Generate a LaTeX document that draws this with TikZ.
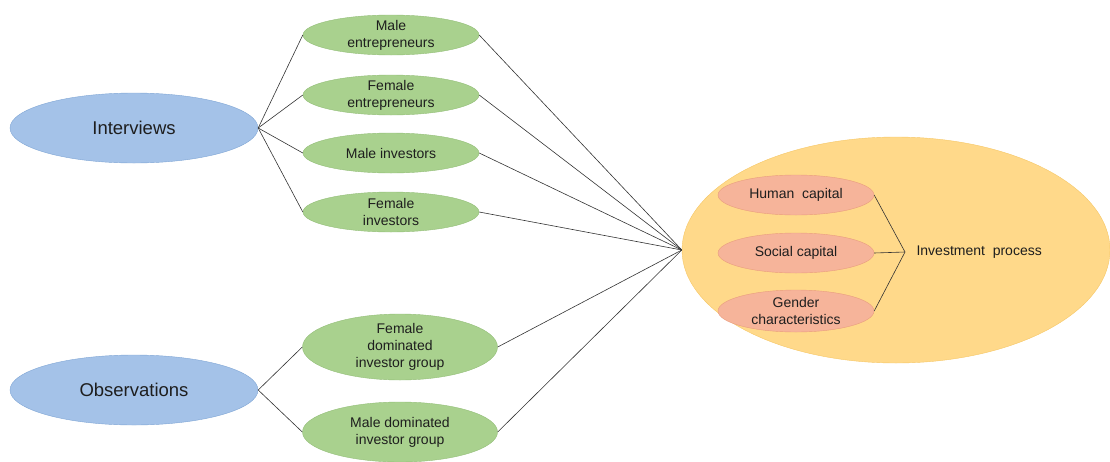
\documentclass[tikz,border=0pt]{standalone}
\usepackage{fontspec}
\setmainfont{Liberation Sans}
\usetikzlibrary{shapes.geometric}
\definecolor{Blue}{HTML}{A4C2E8}
\definecolor{BlueLine}{HTML}{7FA5D4}
\definecolor{Green}{HTML}{A9D18E}
\definecolor{GreenLine}{HTML}{93BE78}
\definecolor{Salmon}{HTML}{F6B49A}
\definecolor{SalmonLine}{HTML}{E99C7E}
\definecolor{Gold}{HTML}{FFD98A}
\definecolor{GoldLine}{HTML}{F6C766}
\definecolor{Text}{HTML}{1E1E1E}

\begin{document}
\begin{tikzpicture}[x=1pt,y=-1pt,
    every node/.style={font=\fontsize{14}{17}\selectfont,text=Text,align=center},
    method/.style={ellipse,fill=Blue,draw=BlueLine,minimum width=248pt,minimum height=70pt,inner sep=0pt,font=\fontsize{18.5}{22}\selectfont},
    group/.style={ellipse,fill=Green,draw=GreenLine,minimum width=176pt,minimum height=40pt,inner xsep=0pt,inner ysep=-3pt},
    factor/.style={ellipse,fill=Salmon,draw=SalmonLine,minimum width=156pt,minimum height=40pt,inner xsep=0pt,inner ysep=-3pt},
    link/.style={draw=black!80,line width=0.6pt}]
  \useasboundingbox (0,0) rectangle (1110,461);
  % process
  \node[ellipse,fill=Gold,draw=GoldLine,minimum width=428pt,minimum height=226pt] (proc) at (896,250) {};
  \node[factor] (human) at (796,195) {Human~ capital};
  \node[factor] (social) at (796,253) {Social capital};
  \node[factor,minimum height=42pt] (gender) at (796,311) {Gender\\characteristics};
  \coordinate (meet) at (905,252);
  \node[anchor=west] (invest) at (913,252) {Investment~ process};
  \draw[link] (human.east) -- (meet) -- (gender.east);
  \draw[link] (social.east) -- (meet);
  % methods
  \node[method] (interv) at (134,128) {Interviews};
  \node[method] (observ) at (134,390) {Observations};
  \node[group] (maleent) at (391,35) {Male\\entrepreneurs};
  \node[group] (fement) at (391,95) {Female\\entrepreneurs};
  \node[group] (maleinv) at (391,153) {Male investors};
  \node[group] (feminv) at (391,212) {Female\\investors};
  \node[group,minimum width=195pt,minimum height=66pt] (femdom) at (400,347) {Female\\dominated\\investor group};
  \node[group,minimum width=195pt,minimum height=60pt] (maledom) at (400,432) {Male dominated\\investor group};
  \foreach \g in {maleent,fement,maleinv,feminv}
    \draw[link] (interv.east) -- (\g.west);
  \foreach \g in {femdom,maledom}
    \draw[link] (observ.east) -- (\g.west);
  \foreach \g in {maleent,fement,maleinv,feminv,femdom,maledom}
    \draw[link] (\g.east) -- (proc.west);
\end{tikzpicture}
\end{document}
